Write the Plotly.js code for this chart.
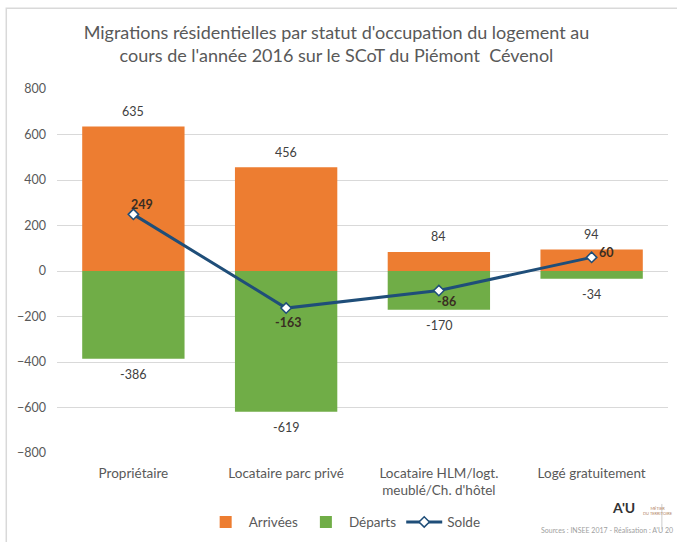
<!DOCTYPE html>
<html>
<head>
<meta charset="utf-8">
<script src="https://cdn.plot.ly/plotly-3.0.1.min.js"></script>
<style>html,body{margin:0;padding:0;background:#fff;}#chart{width:677px;height:542px;}</style>
</head>
<body>
<div id="chart"></div>
<script>
var categories = ["Propriétaire", "Locataire parc privé", "Locataire HLM/logt.<br>meublé/Ch. d'hôtel", "Logé gratuitement"];
var arrivees = [635, 456, 84, 94];
var departs = [-386, -619, -170, -34];
var solde = [249, -163, -86, 60];
var seriesNames = ["Arrivées", "Départs", "Solde"];
var yTicks = [800, 600, 400, 200, 0, -200, -400, -600, -800];

var FONT = "Lato, 'Open Sans', sans-serif";
var GRAY = "#595959";

var traces = [
  {type: "bar", name: seriesNames[0], x: categories, y: arrivees, marker: {color: "#ED7D31"}, hoverinfo: "y"},
  {type: "bar", name: seriesNames[1], x: categories, y: departs, marker: {color: "#70AD47"}, hoverinfo: "y"},
  {type: "scatter", mode: "lines+markers", name: seriesNames[2], x: categories, y: solde,
   line: {color: "#1F4E79", width: 3},
   marker: {symbol: "diamond", size: 8, color: "#ffffff", line: {color: "#1F4E79", width: 1.5}}}
];

var annotations = [];
arrivees.forEach(function (v, i) {
  annotations.push({x: categories[i], y: v, xref: "x", yref: "y", text: String(v), showarrow: false,
    yshift: 15, font: {family: FONT, size: 12.5, color: "#404040"}});
});
departs.forEach(function (v, i) {
  annotations.push({x: categories[i], y: v, xref: "x", yref: "y", text: String(v), showarrow: false,
    yshift: -16, font: {family: FONT, size: 12.5, color: "#404040"}});
});
var soldeShift = [[9, 10], [2, -14], [8, -11], [15, 5]];
solde.forEach(function (v, i) {
  annotations.push({x: categories[i], y: v, xref: "x", yref: "y", text: "<b>" + v + "</b>", showarrow: false,
    xshift: soldeShift[i][0], yshift: soldeShift[i][1], font: {family: FONT, size: 12.5, color: "#3a2d22"}});
});
annotations.push({xref: "paper", yref: "paper", x: 0.95, y: -0.178, text: "<b>A'U</b>", showarrow: false,
  font: {family: FONT, size: 14, color: "#333333"}});
annotations.push({xref: "paper", yref: "paper", x: 1.012, y: -0.178, text: "MÉTIER<br>DU TERRITOIRE", showarrow: false,
  xanchor: "right", font: {family: FONT, size: 4, color: "#b08060"}});
annotations.push({xref: "paper", yref: "paper", x: 1.012, y: -0.228, text: "Sources : INSEE 2017 - Réalisation : A'U 20", showarrow: false,
  xanchor: "right", font: {family: FONT, size: 7, color: "#a0a0a0"}});

var layout = {
  width: 677, height: 542,
  margin: {l: 57, r: 9, t: 89, b: 89, autoexpand: false},
  paper_bgcolor: "#ffffff", plot_bgcolor: "#ffffff",
  font: {family: FONT, color: GRAY},
  title: {text: "Migrations résidentielles par statut d'occupation du logement au<br>cours de l'année 2016 sur le SCoT du Piémont  Cévenol",
    x: 0.497, xref: "container", y: 0.928, yref: "container", yanchor: "middle",
    font: {family: FONT, size: 18, color: GRAY}},
  barmode: "relative",
  bargap: 0.33,
  xaxis: {type: "category", showgrid: false, zeroline: false, showline: false, ticks: "",
    ticklabelstandoff: 10,
    tickfont: {family: FONT, size: 13.5, color: GRAY}, fixedrange: true},
  yaxis: {range: [-800, 800], tickvals: yTicks, showgrid: true, gridcolor: "#d9d9d9", gridwidth: 1,
    zeroline: true, zerolinecolor: "#d9d9d9", zerolinewidth: 1, showline: false, ticks: "",
    ticklabelstandoff: 10,
    tickfont: {family: FONT, size: 12.5, color: GRAY}, fixedrange: true},
  showlegend: true,
  legend: {orientation: "h", x: 0.47, xanchor: "center", y: -0.19, yanchor: "middle",
    font: {family: FONT, size: 13.5, color: GRAY}, traceorder: "normal", itemwidth: 36},
  annotations: annotations,
  shapes: [{type: "rect", xref: "paper", yref: "paper", x0: -0.083, x1: 1.05, y0: -0.4, y1: 1.222,
    line: {color: "#d9d9d9", width: 1.5}, fillcolor: "rgba(0,0,0,0)", layer: "below"},
    {type: "line", xref: "paper", yref: "paper", x0: 0.99, x1: 0.99, y0: -0.14, y1: -0.21,
    line: {color: "#cccccc", width: 1}}]
};

Plotly.newPlot("chart", traces, layout, {displayModeBar: false, staticPlot: true});
</script>
</body>
</html>
